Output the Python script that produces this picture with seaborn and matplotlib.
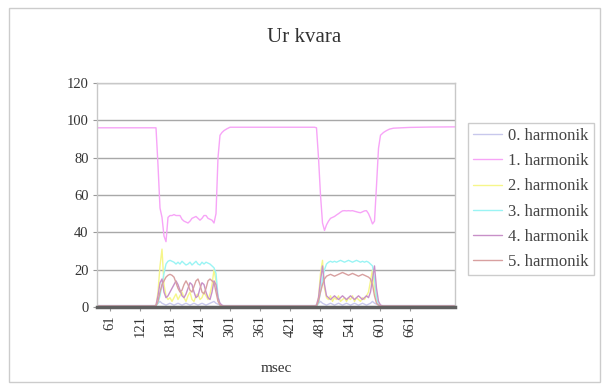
import matplotlib
matplotlib.use("Agg")
import matplotlib.pyplot as plt
import seaborn as sns
import pandas as pd
from matplotlib.patches import Rectangle

sns.set_theme(style="white")
plt.rcParams['font.family'] = ['Liberation Serif', 'DejaVu Serif']

# time of each read sample (msec)
t_msec = [35, 70, 110, 150,
          153, 157, 161, 165, 169, 173, 177, 181, 185, 189, 193, 197, 201, 205, 209, 213,
          217, 221, 225, 229, 233, 237, 241, 245, 249, 253, 257, 261, 265, 269, 273, 277,
          281, 285, 289, 295, 301,
          320, 360, 400, 440, 470,
          474, 478, 482, 486, 490, 494, 498, 502, 506, 510, 514, 518, 522, 526, 530, 534,
          538, 542, 546, 550, 554, 558, 562, 566, 570, 574, 578, 582, 586, 590, 594, 598,
          602, 608, 614, 620, 628,
          660, 700, 751]

h0 = [0.8, 0.8, 0.8, 0.8,
      1, 2, 3, 2, 1.5, 1, 1.5, 2, 1.5, 1, 1.5, 2, 1.5, 1, 1.5, 2,
      1.5, 1, 1.5, 2, 1.5, 1, 1.5, 2, 1.5, 1, 1.5, 2, 2.5, 3, 2, 1.5,
      1, 0.8, 0.8, 0.8, 0.8,
      0.8, 0.8, 0.8, 0.8, 0.8,
      1, 2, 3, 2, 1.5, 1, 1.5, 2, 1.5, 1, 1.5, 2, 1.5, 1, 1.5, 2,
      1.5, 1, 1.5, 2, 1.5, 1, 1.5, 2, 1.5, 1, 1.5, 2, 3, 2, 1.5, 1,
      0.8, 0.8, 0.8, 0.8, 0.8,
      0.8, 0.8, 0.8]

h1 = [96, 96, 96, 96,
      96, 76, 53, 48, 38, 35, 48, 49, 49, 49.5, 49, 49, 49, 47, 46, 45.5,
      45, 46, 47.5, 48, 48.5, 47.5, 46.5, 47.5, 49, 49, 47.5, 47, 46.5, 45, 50, 80,
      92, 93.5, 94.5, 95.5, 96.3,
      96.3, 96.3, 96.3, 96.3, 96.3,
      96, 80, 60, 45, 41, 44, 46, 47.5, 48, 48.5, 49.3, 50, 50.8, 51.5, 51.6, 51.5,
      51.6, 51.5, 51.6, 51.3, 51, 50.7, 50.5, 51, 51.5, 51.6, 50, 47.5, 44.5, 46, 65, 85,
      92, 93.5, 94.5, 95.3, 95.8,
      96.2, 96.4, 96.5]

h2 = [0.5, 0.5, 0.5, 0.5,
      0.5, 8, 22, 31, 12, 6, 4, 5, 3, 5, 7, 4, 6, 8, 5, 3,
      6, 8, 4, 3, 6, 7, 4, 5, 8, 6, 4, 7, 12, 20, 14, 4,
      1, 0.5, 0.5, 0.5, 0.5,
      0.5, 0.5, 0.5, 0.5, 0.5,
      0.5, 5, 18, 25, 10, 5, 4, 6, 3, 5, 4, 6, 3, 4, 5, 3,
      5, 4, 6, 3, 5, 4, 3, 5, 4, 6, 8, 14, 20, 10, 3, 1,
      0.5, 0.5, 0.5, 0.5, 0.5,
      0.5, 0.5, 0.5]

h3 = [0.5, 0.5, 0.5, 0.5,
      0.5, 2, 6, 12, 18, 23, 24.5, 25, 24.5, 24, 23, 24, 23, 24.5, 23.5, 22.5,
      23, 24, 22.5, 23.5, 24.5, 23, 22.5, 24, 23, 24, 23.5, 23, 22, 21, 18, 6,
      1, 0.5, 0.5, 0.5, 0.5,
      0.5, 0.5, 0.5, 0.5, 0.5,
      0.5, 2, 8, 15, 20, 23, 24, 24.5, 24, 24.5, 24, 24.5, 25, 24.5, 24, 24.5,
      25, 24.5, 24, 24.5, 25, 24.5, 24, 24.5, 24, 24.5, 24, 23, 22, 15, 5, 1,
      0.5, 0.5, 0.5, 0.5, 0.5,
      0.5, 0.5, 0.5]

h4 = [0.5, 0.5, 0.5, 0.5,
      1, 6, 13, 15, 8, 5, 6, 8, 10, 12, 14, 12, 9, 6, 5, 7,
      10, 13, 12, 8, 5, 6, 10, 13, 12, 8, 5, 4, 8, 14, 12, 5,
      2, 1, 0.5, 0.5, 0.5,
      0.5, 0.5, 0.5, 0.5, 0.5,
      1, 5, 14, 22, 12, 6, 5, 4, 5, 6, 5, 4, 5, 6, 5, 4,
      5, 6, 5, 4, 5, 6, 5, 4, 5, 6, 5, 8, 15, 22, 10, 3,
      1, 0.5, 0.5, 0.5, 0.5,
      0.5, 0.5, 0.5]

h5 = [0.5, 0.5, 0.5, 0.5,
      0.5, 3, 8, 12, 14, 16, 17, 17.5, 17, 16, 13, 10, 8, 9, 12, 14,
      12, 9, 8, 11, 14, 15, 12, 8, 7, 10, 14, 15, 14, 13, 8, 3,
      1, 0.5, 0.5, 0.5, 0.5,
      0.5, 0.5, 0.5, 0.5, 0.5,
      0.5, 3, 8, 12, 15, 16.5, 17, 17.5, 17, 16.5, 17, 17.5, 18, 18.5, 18, 17.5,
      17, 17.5, 18, 17.5, 17, 16.5, 17, 17.5, 17, 16.5, 16, 15, 12, 6, 2, 1,
      0.5, 0.5, 0.5, 0.5, 0.5,
      0.5, 0.5, 0.5]

series_names = ["0. harmonik", "1. harmonik", "2. harmonik",
                "3. harmonik", "4. harmonik", "5. harmonik"]
series_colors = ["#c8c8ec", "#f7a4f7", "#f6f68a", "#9af4f4", "#c890c8", "#d8a0a0"]
x_tick_vals = [61, 121, 181, 241, 301, 361, 421, 481, 541, 601, 661]
y_tick_vals = [0, 20, 40, 60, 80, 100, 120]

frames = []
for name, vals in zip(series_names, [h0, h1, h2, h3, h4, h5]):
    frames.append(pd.DataFrame({"msec": t_msec, "value": vals, "series": name}))
df = pd.concat(frames, ignore_index=True)

fig = plt.figure(figsize=(6.04, 3.85), dpi=100)
fig.patch.set_facecolor("white")
ax = fig.add_axes([97/604, (385-307)/385, (455-97)/604, (307-83)/385])

sns.lineplot(data=df, x="msec", y="value", hue="series", hue_order=series_names,
             palette=series_colors, linewidth=1.0, ax=ax, legend=True, sort=False,
             estimator=None)

ax.set_xlim(35, 751)
ax.set_ylim(0, 120)
ax.set_yticks(y_tick_vals)
ax.set_xticks(x_tick_vals)
ax.set_xticklabels([str(v) for v in x_tick_vals], rotation=90, fontsize=10.5, color="#333333")
ax.set_yticklabels([str(v) for v in y_tick_vals], fontsize=10.5, color="#333333")
ax.tick_params(axis="both", which="both", length=3, width=0.8, color="#999999",
               direction="out", pad=3, left=True, bottom=True)
ax.yaxis.grid(True, color="#a8a8a8", linewidth=1.0)
ax.set_axisbelow(True)
for side in ["left", "top", "right"]:
    ax.spines[side].set_color("#c8c8c8")
    ax.spines[side].set_linewidth(1.0)
ax.spines["bottom"].set_color("#606060")
ax.spines["bottom"].set_linewidth(2.5)
ax.set_xlabel("msec", fontsize=11, color="#333333", labelpad=18)
ax.set_ylabel("")

leg = ax.legend(loc="upper left", bbox_to_anchor=(468/604, (385-123)/385),
                bbox_transform=fig.transFigure, frameon=True, fontsize=12,
                handlelength=1.75, handletextpad=0.36, labelspacing=0.55,
                borderpad=0.3, borderaxespad=0, fancybox=False)
leg.get_frame().set_edgecolor("#c0c0c0")
leg.get_frame().set_linewidth(1.0)
for txt in leg.get_texts():
    txt.set_color("#444444")

fig.text(0.503, (385-37)/385, "Ur kvara", ha="center", va="center",
         fontsize=15, color="#333333")
fig.patches.append(Rectangle((9/604, 3/385), 591/604, 374/385, transform=fig.transFigure,
                             fill=False, edgecolor="#cccccc", linewidth=1.0))

fig.savefig("out.png", dpi=100)
